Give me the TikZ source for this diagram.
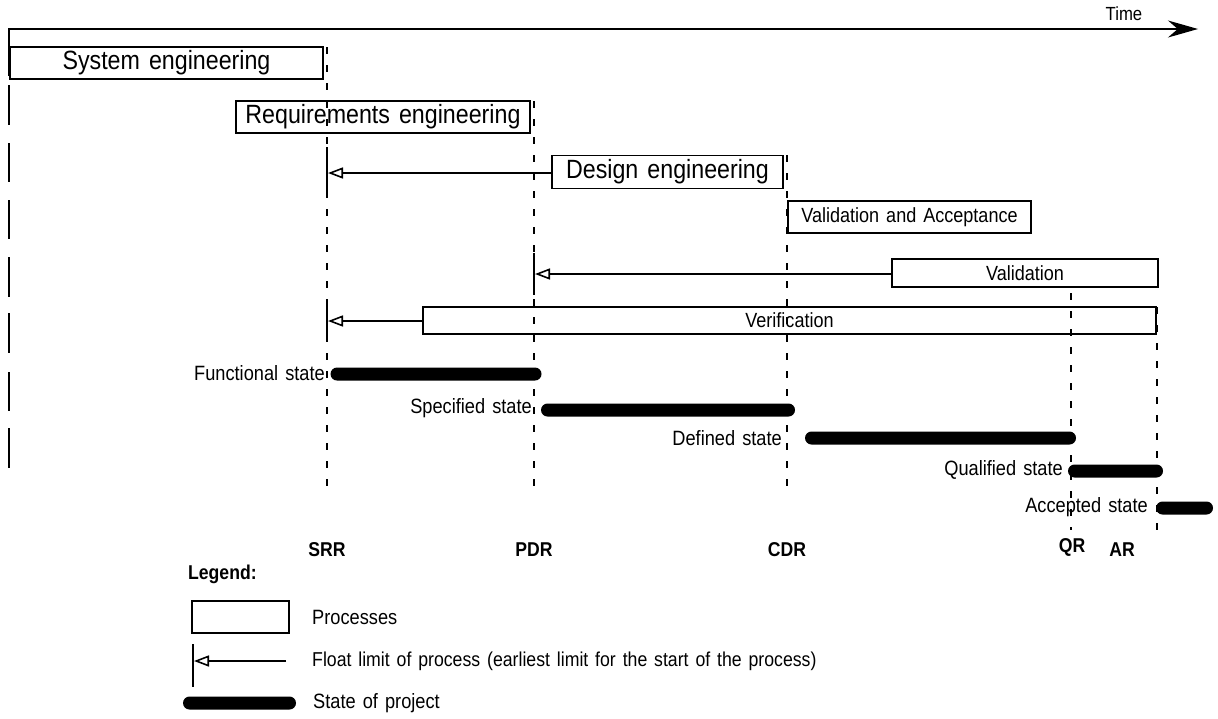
\documentclass[tikz,border=0pt]{standalone}
\usepackage{fontspec}
\setmainfont{Liberation Sans}[FakeStretch=0.88, WordSpace=1.4]
\usetikzlibrary{arrows.meta}
\tikzset{
  procbox/.style={draw, line width=1.8pt, inner sep=0pt, font=\fontsize{26.4}{30}\selectfont},
  procboxs/.style={draw, line width=1.8pt, inner sep=0pt, font=\fontsize{20.5}{24}\selectfont},
  statebar/.style={fill=black, rounded corners=6.5pt, minimum height=13pt, inner sep=0pt},
  lbl/.style={inner sep=0pt, font=\fontsize{20.7}{24}\selectfont},
  blbl/.style={inner sep=0pt, font=\bfseries\fontsize{20}{24}\selectfont},
  milestone/.style={line width=1.6pt, dash pattern=on 7pt off 11pt},
  tickline/.style={line width=2pt},
  floatarrow/.style={line width=1.8pt, -{Triangle[open, length=15pt, width=11pt, line width=1.6pt]}},
}
\begin{document}
\begin{tikzpicture}[x=1pt, y=-1pt]
\useasboundingbox (0,0) rectangle (1218,718);
% time axis
\coordinate (tstart) at (10,29);
\coordinate (tend) at (1198,29);
\draw[line width=1.4pt, -{Stealth[length=30pt, width=17pt]}] (tstart) -- (tend);
\node[lbl, font=\fontsize{19}{22}\selectfont] (time) at (1124,14) {Time};
% left dashed bar
\foreach \ya/\yb [count=\i] in {28/76, 85/125, 143/182, 200/239, 257/297, 313/353, 372/411, 428/468}{
  \coordinate (la\i) at (9,\ya);
  \coordinate (lb\i) at (9,\yb);
  \draw[line width=2pt] (la\i) -- (lb\i);
}
% milestone dashed lines
\coordinate (srrT) at (327,47);  \coordinate (srrB) at (327,486);
\coordinate (pdrT) at (534,101); \coordinate (pdrB) at (534,486);
\coordinate (cdrT) at (787,155); \coordinate (cdrB) at (787,486);
\coordinate (qrT) at (1071,293); \coordinate (qrB) at (1071,530);
\coordinate (arT) at (1157,307); \coordinate (arB) at (1157,530);
\draw[milestone] (srrT) -- (srrB);
\draw[milestone] (pdrT) -- (pdrB);
\draw[milestone] (cdrT) -- (cdrB);
\draw[milestone] (qrT) -- (qrB);
\draw[milestone] (arT) -- (arB);
% process boxes
\node[procbox, minimum width=313pt, minimum height=32pt] (sys) at (166.5,63) {System engineering};
\node[procbox, minimum width=294pt, minimum height=32pt] (req) at (383,117) {Requirements engineering};
\node[procbox, fill=white, minimum width=231pt, minimum height=33pt] (des) at (667.5,172) {Design engineering};
\node[procboxs, fill=white, minimum width=243pt, minimum height=32pt] (va) at (909.5,217) {Validation and Acceptance};
\node[procboxs, fill=white, minimum width=266pt, minimum height=28pt] (val) at (1025,273) {Validation};
\node[procboxs, minimum width=733pt, minimum height=27pt] (ver) at (789.5,320.5) {Verification};
% float limits
\coordinate (t1a) at (327,147); \coordinate (t1b) at (327,194); \coordinate (t1) at (328,173);
\coordinate (t2a) at (534,253); \coordinate (t2b) at (534,295); \coordinate (t2) at (535,274);
\coordinate (t3a) at (327,303); \coordinate (t3b) at (327,340); \coordinate (t3) at (328,321);
\draw[tickline] (t1a) -- (t1b);
\draw[tickline] (t2a) -- (t2b);
\draw[tickline] (t3a) -- (t3b);
\draw[floatarrow] (des.west |- t1) -- (t1);
\draw[floatarrow] (val.west |- t2) -- (t2);
\draw[floatarrow] (ver.west |- t3) -- (t3);
% states
\node[statebar, minimum width=211pt] (fs) at (436,374) {};
\node[statebar, minimum width=254pt] (ss) at (668,410) {};
\node[statebar, minimum width=271pt] (ds) at (940.5,438) {};
\node[statebar, minimum width=95pt] (qs) at (1115.5,471) {};
\node[statebar, minimum width=57pt] (as) at (1184.5,508) {};
\node[lbl, anchor=east] (fsl) at (325,373) {Functional state};
\node[lbl, anchor=east] (ssl) at (532,408) {Specified state};
\node[lbl, anchor=east] (dsl) at (782,438) {Defined state};
\node[lbl, anchor=east] (qsl) at (1063,470) {Qualified state};
\node[lbl, anchor=east] (asl) at (1148,507) {Accepted state};
% milestone labels
\node[blbl] (srr) at (327,550) {SRR};
\node[blbl] (pdr) at (534,550) {PDR};
\node[blbl] (cdr) at (787,550) {CDR};
\node[blbl] (qr) at (1072,547) {QR};
\node[blbl] (ar) at (1122,550) {AR};
% legend
\node[blbl, anchor=west] (leg) at (188,574) {Legend:};
\node[draw, line width=1.8pt, minimum width=97pt, minimum height=32pt, inner sep=0pt] (legbox) at (240.5,617) {};
\node[lbl, anchor=west] (legboxt) at (312,617) {Processes};
\coordinate (lta) at (193,644); \coordinate (ltb) at (193,687); \coordinate (lt) at (194,661);
\coordinate (las) at (286,661);
\draw[tickline] (lta) -- (ltb);
\draw[floatarrow] (las) -- (lt);
\node[lbl, anchor=west, font=\fontsize{20.1}{24}\selectfont] (legft) at (312,661) {Float limit of process (earliest limit for the start of the process)};
\node[statebar, minimum width=113pt] (legst) at (239.5,703) {};
\node[lbl, anchor=west] (legstt) at (313,703) {State of project};
\end{tikzpicture}
\end{document}
